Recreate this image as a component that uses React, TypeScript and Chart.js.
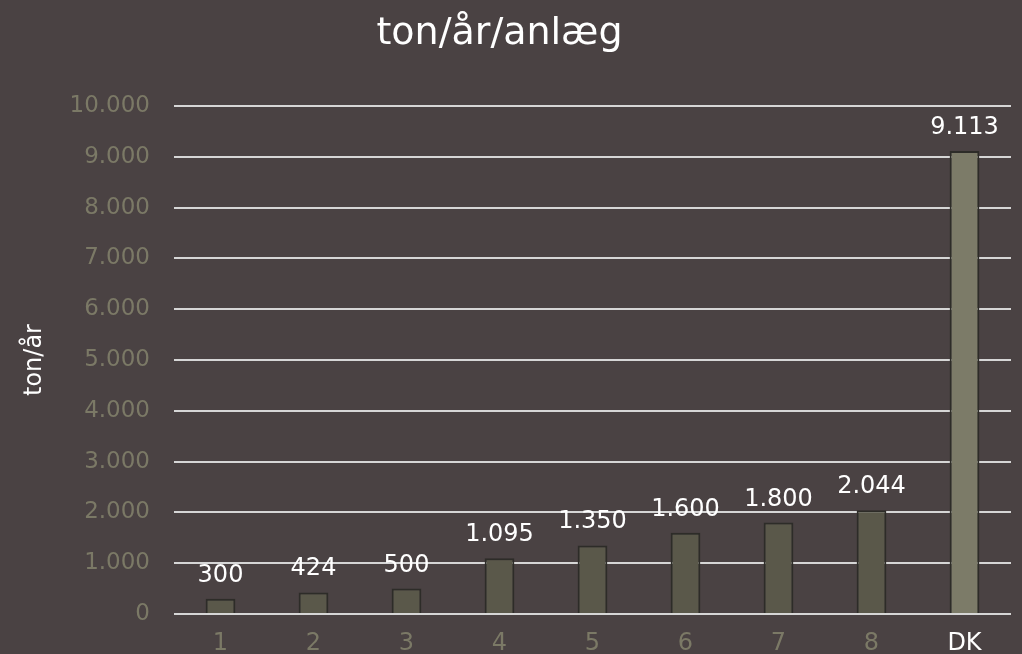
import React, { useEffect, useRef } from "react";
import { Chart, registerables } from "chart.js";

Chart.register(...registerables);

const categories = ["1", "2", "3", "4", "5", "6", "7", "8", "DK"];
const values = [300, 424, 500, 1095, 1350, 1600, 1800, 2044, 9113];
const chartTitle = "ton/år/anlæg";
const yAxisTitle = "ton/år";
const yMin = 0;
const yMax = 10000;
const yStep = 1000;

const BG = "#4a4243";
const BAR = "#5a584a";
const BAR_DK = "#7c7b68";
const TICK = "#7b7966";
const FONT = "'DejaVu Sans', Verdana, sans-serif";

function fmt(v: number): string {
  return Math.round(v)
    .toString()
    .replace(/\B(?=(\d{3})+(?!\d))/g, ".");
}

const valueLabels = {
  id: "valueLabels",
  afterDatasetsDraw(chart: any) {
    const ctx = chart.ctx;
    const meta = chart.getDatasetMeta(0);
    ctx.save();
    ctx.fillStyle = "#ffffff";
    ctx.font = `24px ${FONT}`;
    ctx.textAlign = "center";
    ctx.textBaseline = "alphabetic";
    meta.data.forEach((el: any, i: number) => {
      const v = chart.data.datasets[0].data[i] as number;
      ctx.fillText(fmt(v), el.x, el.y - 17);
    });
    ctx.restore();
  },
};

const titleText = {
  id: "titleText",
  afterDraw(chart: any) {
    const ctx = chart.ctx;
    ctx.save();
    ctx.fillStyle = "#ffffff";
    ctx.font = `38px ${FONT}`;
    ctx.textAlign = "center";
    ctx.textBaseline = "alphabetic";
    ctx.fillText(chartTitle, 499.5, 44);
    ctx.restore();
  },
};

export default function App() {
  const ref = useRef<HTMLCanvasElement | null>(null);

  useEffect(() => {
    document.body.style.margin = "0";
    if (!ref.current) return;
    const chart = new Chart(ref.current, {
      type: "bar",
      data: {
        labels: categories,
        datasets: [
          {
            data: values,
            backgroundColor: categories.map((c) => (c === "DK" ? BAR_DK : BAR)),
            borderColor: "#2d2c28",
            borderWidth: 2,
            borderSkipped: "bottom",
            barPercentage: 1,
            categoryPercentage: 0.32,
          },
        ],
      },
      options: {
        responsive: false,
        maintainAspectRatio: false,
        animation: false,
        layout: { padding: { top: 106, right: 11, bottom: 0, left: 0 } },
        plugins: {
          legend: { display: false },
          tooltip: { enabled: false },
          title: { display: false },
        },
        scales: {
          x: {
            grid: { display: false, drawTicks: false },
            border: { display: false },
            ticks: {
              color: (c: any) => (c.index === 8 ? "#ffffff" : TICK),
              font: { family: FONT, size: 24 },
              padding: 15,
              maxRotation: 0,
              autoSkip: false,
            },
            afterFit: (s: any) => {
              s.height = 40;
            },
          },
          y: {
            min: yMin,
            max: yMax,
            grid: { color: "#d6d6d6", lineWidth: 2, drawTicks: false },
            border: { display: false },
            ticks: {
              stepSize: yStep,
              color: TICK,
              font: { family: FONT, size: 23 },
              padding: 24,
              callback: (v: any) => fmt(Number(v)),
            },
            title: {
              display: true,
              text: yAxisTitle,
              color: "#ffffff",
              font: { family: FONT, size: 24, lineHeight: 1.2 },
              padding: { top: 20, bottom: 0 },
            },
            afterFit: (s: any) => {
              s.width = 174;
            },
          },
        },
      },
      plugins: [valueLabels, titleText],
    });
    return () => chart.destroy();
  }, []);

  return (
    <div
      style={{
        position: "fixed",
        left: 0,
        top: 0,
        width: 1022,
        height: 654,
        background: BG,
        overflow: "hidden",
      }}
    >
      <canvas ref={ref} width={1022} height={654} style={{ display: "block" }} />
    </div>
  );
}
